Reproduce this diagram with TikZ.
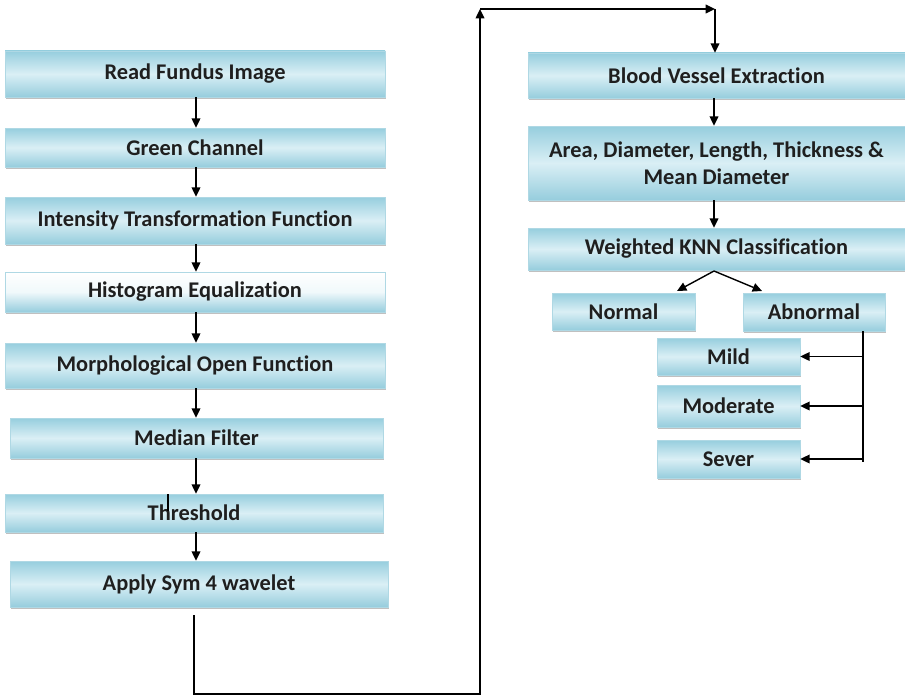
\documentclass[tikz,border=0pt]{standalone}
\usepackage{fontspec}
\setmainfont{Carlito}[Ligatures=NoCommon]
\usetikzlibrary{arrows.meta,shadows}
\definecolor{bxtop}{RGB}{150,206,222}
\definecolor{bxmid}{RGB}{218,239,245}
\definecolor{bxbot}{RGB}{150,205,221}
\definecolor{bxline}{RGB}{175,216,228}
\tikzset{
  bx/.style 2 args={rectangle, inner sep=0pt, align=center,
    minimum width=#1*0.75pt, minimum height=#2*0.75pt,
    top color=bxtop, bottom color=bxbot, middle color=bxmid,
    draw=bxline, line width=0.4pt,
    drop shadow={shadow xshift=0.8pt, shadow yshift=-1.6pt, fill=black!45, opacity=0.55},
    font=\bfseries\fontsize{16.8}{20}\selectfont, text=black!88},
  bxlight/.style={top color=white, bottom color=bxbot, middle color=white!60!bxmid},
  arr/.style={-{Triangle[length=7pt,width=6.5pt]}, line width=1.05pt, black},
  ln/.style={line width=1.05pt, black}
}
\begin{document}
\begin{tikzpicture}[x=0.75pt,y=-0.75pt]
\useasboundingbox (0,0) rectangle (905,699);
% left column
\node[bx={380}{46}] (read) at (195,74) {Read Fundus Image};
\node[bx={380}{39}] (green) at (195,147.5) {Green Channel};
\node[bx={380}{47}] (intens) at (195,220.5) {Intensity Transformation Function};
\node[bx={380}{40},bxlight] (hist) at (195,292) {Histogram Equalization};
\node[bx={380}{45}] (morph) at (195,365.5) {Morphological Open Function};
\node[bx={373}{40}] (median) at (196.5,438) {Median Filter};
\node[bx={378}{38}] (thresh) at (194,513) {Threshold};
\node[bx={378}{46}] (apply) at (199,584) {Apply Sym 4 wavelet};
% right column
\node[bx={377}{45}] (blood) at (716.5,75.5) {Blood Vessel Extraction};
\node[bx={377}{74}] (area) at (716.5,163) {Area, Diameter, Length, Thickness \&\\Mean Diameter};
\node[bx={377}{42}] (knn) at (716.5,249) {Weighted KNN Classification};
\node[bx={143}{37}] (normal) at (623.5,311.5) {Normal};
\node[bx={142}{38}] (abnormal) at (814,312) {Abnormal};
\node[bx={143}{37}] (mild) at (728.5,356.5) {Mild};
\node[bx={143}{42}] (moderate) at (728.5,406) {Moderate};
\node[bx={143}{38}] (sever) at (728.5,459) {Sever};
% left column arrows
\coordinate (lx) at (196,0);
\draw[arr] (read.south -| lx) -- (green.north -| lx);
\draw[arr] (green.south -| lx) -- (intens.north -| lx);
\draw[arr] (intens.south -| lx) -- (hist.north -| lx);
\draw[arr] (hist.south -| lx) -- (morph.north -| lx);
\draw[arr] (morph.south -| lx) -- (median.north -| lx);
\draw[arr] (median.south -| lx) -- (thresh.north -| lx);
\draw[arr] (thresh.south -| lx) -- (apply.north -| lx);
\draw[line width=1.05pt] (168,494) -- (168,511);
% long connector
\coordinate (a0) at (194,615);
\coordinate (bl) at (480,694);
\coordinate (tl) at (480,9);
\coordinate (tr) at (715,9);
\draw[arr] (a0) |- (bl) -- (tl);
\draw[arr] (tl) -- (tr);
\draw[arr] (tr) -- (blood.north -| tr);
% right column arrows
\coordinate (rx) at (714,0);
\draw[arr] (blood.south -| rx) -- (area.north -| rx);
\draw[arr] (area.south -| rx) -- (knn.north -| rx);
\coordinate (kb) at (714,271);
\coordinate (nt) at (677,291);
\coordinate (at) at (762,291);
\draw[arr] (kb) -- (nt);
\draw[arr] (kb) -- (at);
% abnormal branches
\coordinate (ab) at (863,331);
\coordinate (abe) at (863,462);
\draw[ln] (ab) -- (abe);
\draw[arr] (mild.east -| ab) -- (mild.east);
\draw[arr] (moderate.east -| ab) -- (moderate.east);
\draw[arr] (sever.east -| ab) -- (sever.east);
\end{tikzpicture}
\end{document}
